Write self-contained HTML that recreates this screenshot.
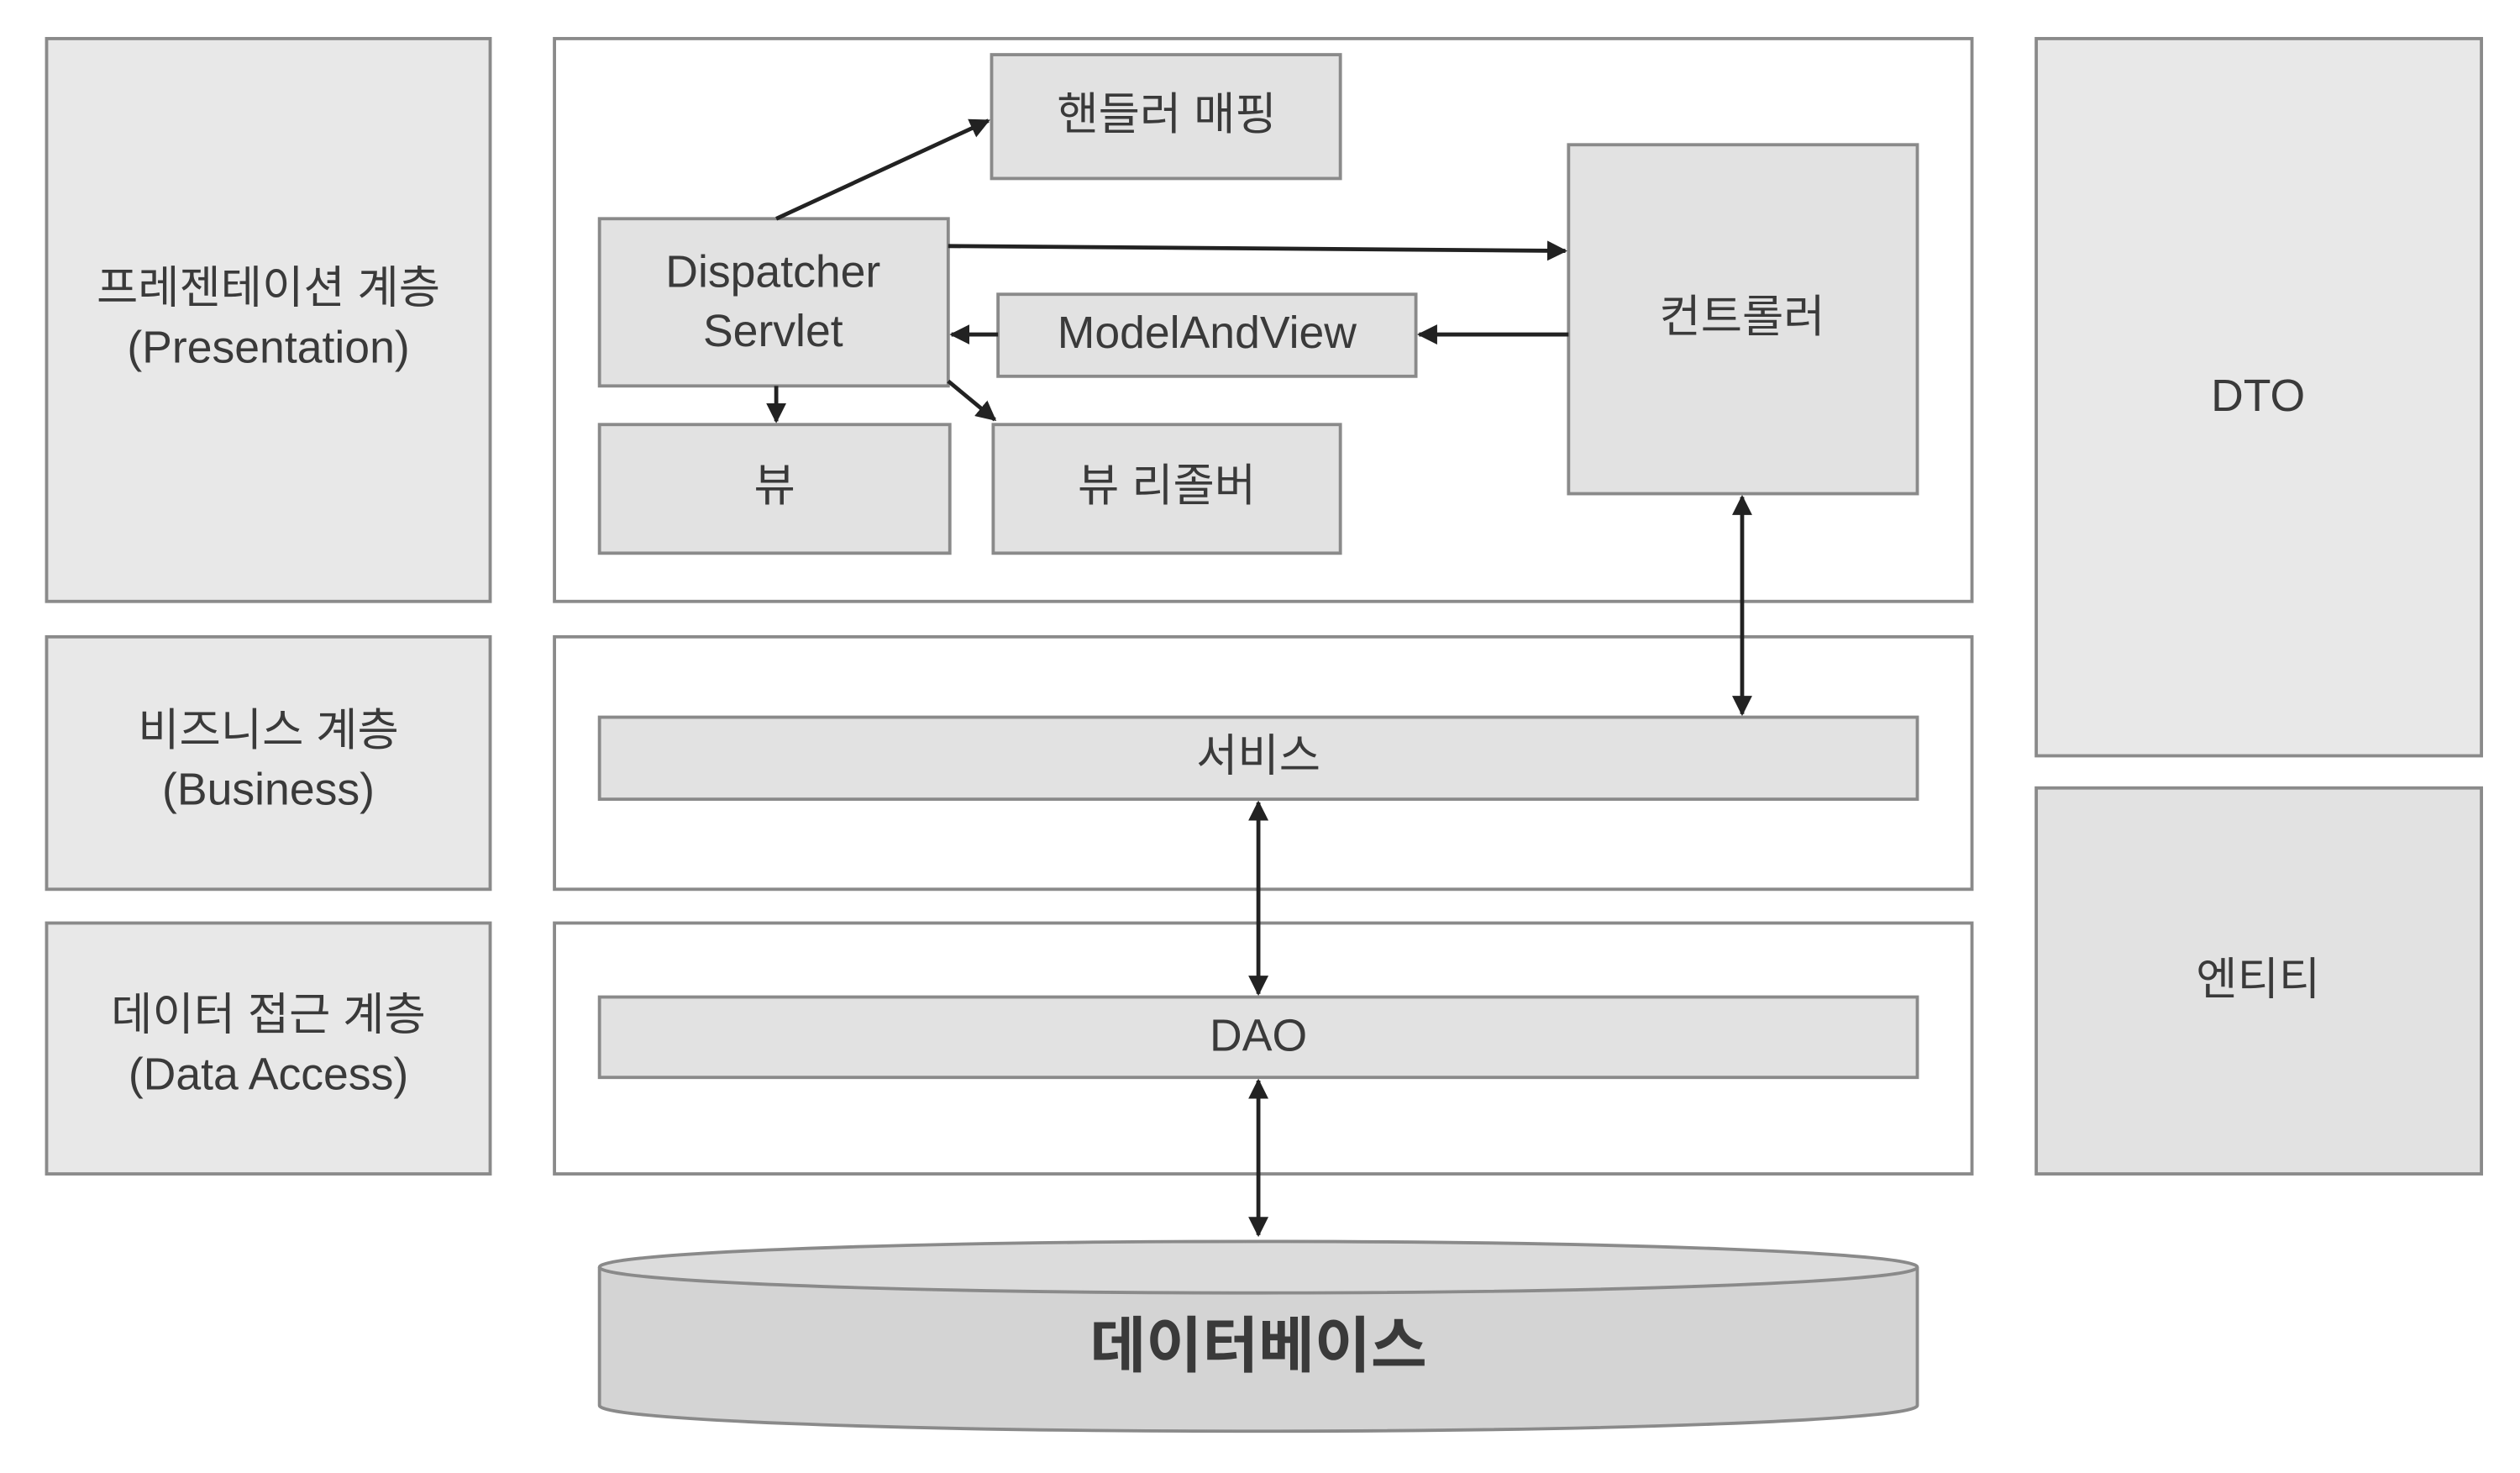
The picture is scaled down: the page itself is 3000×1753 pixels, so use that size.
<!DOCTYPE html>
<html><head><meta charset="utf-8"><style>
html,body{margin:0;padding:0;background:#fff;}
svg{display:block;}
text{font-family:"Liberation Sans","Noto Sans CJK KR","NanumGothic",sans-serif;fill:#3a3a3a;text-anchor:middle;dominant-baseline:middle;}
</style></head><body>
<svg width="3000" height="1753" viewBox="0 0 1568 916" preserveAspectRatio="none" xmlns="http://www.w3.org/2000/svg">
<defs>
<marker id="a" viewBox="0 0 10 10" refX="9" refY="5" markerWidth="5" markerHeight="5" orient="auto-start-reverse"><path d="M0,0 L10,5 L0,10 z" fill="#222"/></marker>
</defs>
<g stroke="#8a8a8a" stroke-width="2">
<rect x="29" y="24" width="276" height="350" fill="#e8e8e8"/>
<rect x="29" y="396" width="276" height="157" fill="#e8e8e8"/>
<rect x="29" y="574" width="276" height="156" fill="#e8e8e8"/>
<rect x="345" y="24" width="882" height="350" fill="#fff"/>
<rect x="345" y="396" width="882" height="157" fill="#fff"/>
<rect x="345" y="574" width="882" height="156" fill="#fff"/>
<rect x="1267" y="24" width="277" height="446" fill="#e8e8e8"/>
<rect x="1267" y="490" width="277" height="240" fill="#e2e2e2"/>
<rect x="617" y="34" width="217" height="77" fill="#e2e2e2"/>
<rect x="373" y="136" width="217" height="104" fill="#e2e2e2"/>
<rect x="621" y="183" width="260" height="51" fill="#e2e2e2"/>
<rect x="976" y="90" width="217" height="217" fill="#e2e2e2"/>
<rect x="373" y="264" width="218" height="80" fill="#e2e2e2"/>
<rect x="618" y="264" width="216" height="80" fill="#e2e2e2"/>
<rect x="373" y="446" width="820" height="51" fill="#e2e2e2"/>
<rect x="373" y="620" width="820" height="50" fill="#e2e2e2"/>
<path d="M373,788 L373,874 A410,16 0 0 0 1193,874 L1193,788" fill="#d4d4d4"/>
<ellipse cx="783" cy="788" rx="410" ry="16" fill="#dcdcdc"/>
</g>
<g stroke="#222" stroke-width="2.5" fill="none">
<line x1="483" y1="136" x2="615" y2="75" marker-end="url(#a)"/>
<line x1="590" y1="153" x2="974" y2="156" marker-end="url(#a)"/>
<line x1="976" y1="208" x2="883" y2="208" marker-end="url(#a)"/>
<line x1="621" y1="208" x2="592" y2="208" marker-end="url(#a)"/>
<line x1="483" y1="240" x2="483" y2="262" marker-end="url(#a)"/>
<line x1="590" y1="237" x2="619" y2="261" marker-end="url(#a)"/>
<line x1="1084" y1="309" x2="1084" y2="444" marker-start="url(#a)" marker-end="url(#a)"/>
<line x1="783" y1="499" x2="783" y2="618" marker-start="url(#a)" marker-end="url(#a)"/>
<line x1="783" y1="672" x2="783" y2="768" marker-start="url(#a)" marker-end="url(#a)"/>
</g>
<g font-size="28">
<text x="167" y="181">프레젠테이션 계층</text>
<text x="167" y="218">(Presentation)</text>
<text x="167" y="456">비즈니스 계층</text>
<text x="167" y="493">(Business)</text>
<text x="167" y="633">데이터 접근 계층</text>
<text x="167" y="670">(Data Access)</text>
<text x="726" y="73">핸들러 매핑</text>
<text x="481" y="171">Dispatcher</text>
<text x="481" y="208">Servlet</text>
<text x="751" y="209">ModelAndView</text>
<text x="1084" y="199">컨트롤러</text>
<text x="482" y="304">뷰</text>
<text x="726" y="304">뷰 리졸버</text>
<text x="783" y="472">서비스</text>
<text x="783" y="646">DAO</text>
<text x="1405" y="248">DTO</text>
<text x="1405" y="611">엔티티</text>
<text x="783" y="840" font-size="38" font-weight="bold">데이터베이스</text>
</g>
</svg>
</body></html>
